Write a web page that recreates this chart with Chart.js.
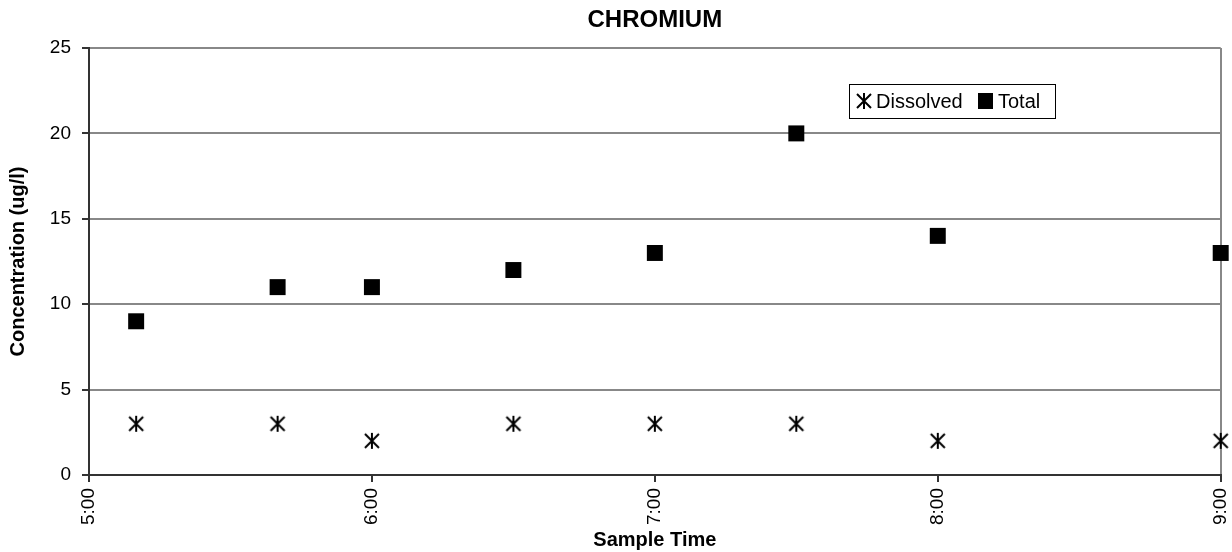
<!DOCTYPE html>
<html>
<head>
<meta charset="utf-8">
<script src="https://cdn.jsdelivr.net/npm/chart.js@4/dist/chart.umd.min.js"></script>
<style>
  html, body { margin: 0; padding: 0; background: #fff; }
  #box { width: 1232px; height: 552px; }
</style>
</head>
<body>
<div id="box"><canvas id="chart" width="1232" height="552"></canvas></div>
<script>
// data - sample times in minutes after midnight
const sampleTimes = [310, 340, 360, 390, 420, 450, 480, 540];
const dissolved = [3, 3, 2, 3, 3, 3, 2, 2];
const total = [9, 11, 11, 12, 13, 20, 14, 13];
const seriesNames = ['Dissolved', 'Total'];
const yTicks = [0, 5, 10, 15, 20, 25];
const xTicks = [300, 360, 420, 480, 540];

const FONT = "'Liberation Sans', Arial, sans-serif";

// asterisk marker (vertical + x), like the excel one
const makeStar = (size) => {
  const c = document.createElement('canvas');
  c.width = size;
  c.height = size;
  const g = c.getContext('2d');
  g.strokeStyle = '#000';
  g.lineWidth = 2;
  g.beginPath();
  g.moveTo(size / 2, 1);
  g.lineTo(size / 2, size - 1);
  g.moveTo(2, 2);
  g.lineTo(size - 2, size - 2);
  g.moveTo(size - 2, 2);
  g.lineTo(2, size - 2);
  g.stroke();
  return c;
};
const starImg = makeStar(18);

const toPoints = (values) => sampleTimes.map((t, i) => ({x: t, y: values[i]}));

const fmtTime = (v) => {
  const h = Math.floor(v / 60);
  const m = v % 60;
  return h + ':' + (m < 10 ? '0' + m : m);
};

// legend box floating inside the plot
const boxLegend = {
  id: 'boxLegend',
  afterDraw(chart) {
    const {ctx} = chart;
    ctx.save();
    ctx.fillStyle = '#fff';
    ctx.strokeStyle = '#000';
    ctx.lineWidth = 1;
    ctx.fillRect(849.5, 84.5, 206, 34);
    ctx.strokeRect(849.5, 84.5, 206, 34);
    ctx.drawImage(starImg, 864 - 9, 101 - 9);
    ctx.fillStyle = '#000';
    ctx.fillRect(978, 93, 15, 16);
    ctx.font = '20px ' + FONT;
    ctx.textBaseline = 'middle';
    ctx.fillText(seriesNames[0], 876, 102);
    ctx.fillText(seriesNames[1], 998, 102);
    ctx.restore();
  }
};

new Chart(document.getElementById('chart'), {
  type: 'scatter',
  data: {
    datasets: [
      {
        label: seriesNames[0],
        data: toPoints(dissolved),
        pointStyle: starImg,
        pointRadius: 9,
        clip: false
      },
      {
        label: seriesNames[1],
        data: toPoints(total),
        pointStyle: 'rect',
        pointRadius: 11.3,
        backgroundColor: '#000',
        borderColor: '#000',
        borderWidth: 0,
        clip: false
      }
    ]
  },
  plugins: [boxLegend],
  options: {
    responsive: false,
    animation: false,
    layout: { padding: { left: 0, right: 10, top: 0, bottom: 0 } },
    plugins: {
      legend: { display: false },
      tooltip: { enabled: false },
      title: {
        display: true,
        fullSize: false,
        text: 'CHROMIUM',
        color: '#000',
        font: { family: FONT, size: 24, weight: 'bold', lineHeight: 1.2 },
        padding: { top: 6, bottom: 13.2 }
      }
    },
    scales: {
      x: {
        type: 'linear',
        min: 300,
        max: 540,
        afterFit: (s) => { s.height = 77; s.paddingRight = 0; s.paddingLeft = 0; },
        afterBuildTicks: (s) => { s.ticks = xTicks.map((v) => ({value: v})); },
        border: { display: true, color: '#333', width: 2 },
        grid: {
          drawOnChartArea: true,
          color: (c) => (c.tick && c.tick.value === 540 ? '#888' : 'rgba(0,0,0,0)'),
          lineWidth: 2,
          tickColor: '#333',
          tickLength: 7
        },
        ticks: {
          color: '#000',
          font: { family: FONT, size: 19 },
          maxRotation: 90,
          minRotation: 90,
          padding: 6,
          callback: (v) => fmtTime(v)
        },
        title: {
          display: true,
          text: 'Sample Time',
          color: '#000',
          font: { family: FONT, size: 20, weight: 'bold', lineHeight: 1.2 },
          padding: { top: 0, bottom: 0 }
        }
      },
      y: {
        min: 0,
        max: 25,
        afterFit: (s) => { s.width = 89; },
        afterBuildTicks: (s) => { s.ticks = yTicks.map((v) => ({value: v})); },
        border: { display: true, color: '#333', width: 2 },
        grid: {
          color: '#888',
          lineWidth: 2,
          tickColor: '#333',
          tickLength: 7
        },
        ticks: {
          color: '#000',
          font: { family: FONT, size: 19 },
          padding: 11
        },
        title: {
          display: true,
          text: 'Concentration (ug/l)',
          color: '#000',
          font: { family: FONT, size: 20, weight: 'bold', lineHeight: 1.2 },
          padding: { top: 6, bottom: 6 }
        }
      }
    }
  }
});
</script>
</body>
</html>
